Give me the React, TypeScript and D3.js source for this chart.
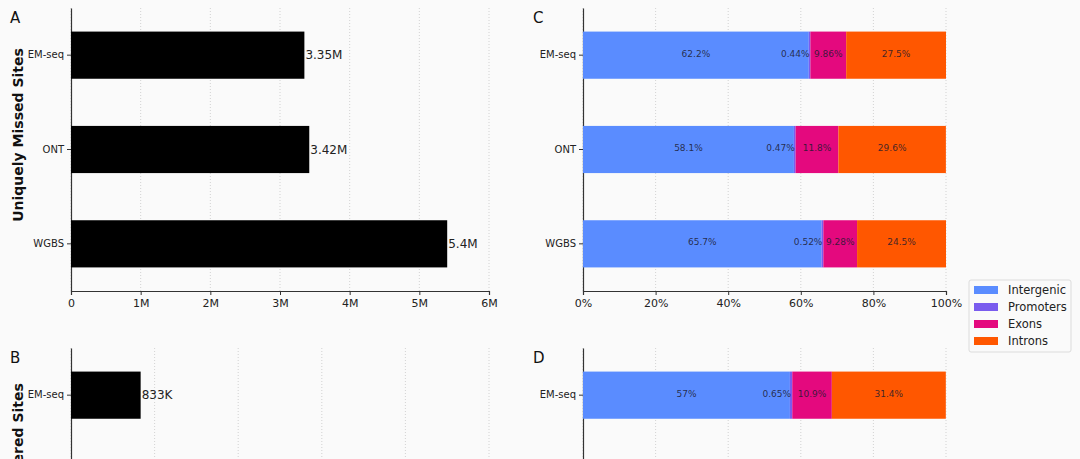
import React, { useEffect, useRef } from 'react';
import * as d3 from 'd3';

// sequencing platforms (top to bottom)
const platforms = ['EM-seq', 'ONT', 'WGBS'];

// panel A: uniquely missed sites
const missedCounts = [3350000, 3420000, 5400000];
const missedTicks = [0, 1e6, 2e6, 3e6, 4e6, 5e6, 6e6];

// panel B: only the first row is visible in the picture
const coveredPlatforms = ['EM-seq'];
const coveredCounts = [833000];
const coveredTicks = [0, 1e6, 2e6, 3e6, 4e6, 5e6];

// genomic feature shares (%)
const features = ['Intergenic', 'Promoters', 'Exons', 'Introns'];
const featureColors = ['#5A8CFF', '#7A5CEE', '#E4097E', '#FF5700'];
const missedIntergenic = [62.2, 58.1, 65.7];
const missedPromoters = [0.44, 0.47, 0.52];
const missedExons = [9.86, 11.8, 9.28];
const missedIntrons = [27.5, 29.6, 24.5];
const coveredIntergenic = [57];
const coveredPromoters = [0.65];
const coveredExons = [10.9];
const coveredIntrons = [31.4];
const percentTicks = [0, 20, 40, 60, 80, 100];

const FONT = '"DejaVu Sans", sans-serif';
const VIEW_H = 459;

export default function App() {
    const svgRef = useRef<SVGSVGElement>(null);

    useEffect(() => {
        document.body.style.margin = '0';
        if (!svgRef.current) return;
        const svg = d3.select(svgRef.current);
        svg.selectAll("*").remove();

        svg.append("rect")
            .attr("width", 1080)
            .attr("height", VIEW_H)
            .attr("fill", "#fafafa");

        const fmtCount = (v: number) => d3.format(".3~s")(v).replace("k", "K");
        const fmtTick = (v: number) => v === 0 ? "0" : d3.format("~s")(v);

        function frame(box: { left: number; right: number; top: number; bottom: number },
            x: d3.ScaleLinear<number, number>, ticks: number[], tickFmt: (v: number) => string,
            y: d3.ScaleBand<string>, cats: string[], label: string, labelX: number) {
            const g = svg.append("g");

            // dotted vertical grid
            g.selectAll("line.grid")
                .data(ticks)
                .join("line")
                .attr("class", "grid")
                .attr("x1", d => x(d)).attr("x2", d => x(d))
                .attr("y1", box.top).attr("y2", box.bottom)
                .attr("stroke", "#c8c8c8")
                .attr("stroke-width", 0.8)
                .attr("stroke-dasharray", "1,2");

            // bottom axis only when it falls inside the picture
            if (box.bottom < VIEW_H) {
                const xAxis = g.append("g")
                    .attr("transform", `translate(0,${box.bottom})`)
                    .call(d3.axisBottom(x).tickValues(ticks).tickFormat(d => tickFmt(+d)).tickSize(4).tickPadding(4));
                xAxis.select(".domain").attr("stroke", "#333").attr("stroke-width", 1.2);
                xAxis.selectAll(".tick line").attr("stroke", "#333");
                xAxis.selectAll("text")
                    .attr("fill", "#222")
                    .style("font-family", FONT)
                    .style("font-size", "11px");
            }

            const yAxis = g.append("g")
                .attr("transform", `translate(${box.left},0)`)
                .call(d3.axisLeft(y).tickValues(cats).tickSize(4).tickPadding(3).tickSizeOuter(0));
            yAxis.select(".domain").attr("stroke", "#333").attr("stroke-width", 1.2);
            yAxis.selectAll(".tick line").attr("stroke", "#333");
            yAxis.selectAll("text")
                .attr("fill", "#222")
                .style("font-family", FONT)
                .style("font-size", "10px");

            g.append("text")
                .attr("x", labelX)
                .attr("y", box.top + 15)
                .attr("font-family", FONT)
                .attr("font-size", 15)
                .attr("fill", "#111")
                .text(label);
            return g;
        }

        function countPanel(top: number, cats: string[], values: number[], ticks: number[],
            label: string, yTitle: string) {
            const box = { left: 71, right: 489, top, bottom: top + 283 };
            const x = d3.scaleLinear().domain([0, ticks[ticks.length - 1]]).range([box.left, box.right]);
            const y = d3.scaleBand<string>().domain(platforms).range([box.top, box.bottom])
                .paddingInner(0.5).paddingOuter(0.25);
            const g = frame(box, x, ticks, fmtTick, y, cats, label, 10);
            const rows = cats.map((c, i) => ({ c, v: values[i] }));

            g.selectAll("rect.bar")
                .data(rows)
                .join("rect")
                .attr("class", "bar")
                .attr("x", x(0))
                .attr("y", d => y(d.c)!)
                .attr("width", d => x(d.v) - x(0))
                .attr("height", y.bandwidth())
                .attr("fill", "#000");

            g.selectAll("text.val")
                .data(rows)
                .join("text")
                .attr("class", "val")
                .attr("x", d => x(d.v) + 1)
                .attr("y", d => y(d.c)! + y.bandwidth() / 2)
                .attr("dominant-baseline", "central")
                .attr("font-family", FONT)
                .attr("font-size", 12)
                .attr("fill", "#222")
                .text(d => fmtCount(d.v));

            // title sits a bit above the axis middle, as in the figure
            g.append("text")
                .attr("transform", `translate(18,${box.top + 127}) rotate(-90)`)
                .attr("text-anchor", "middle")
                .attr("dominant-baseline", "central")
                .attr("font-family", FONT)
                .attr("font-size", 14)
                .attr("font-weight", "bold")
                .attr("fill", "#111")
                .text(yTitle);
        }

        function sharePanel(top: number, cats: string[], series: number[][], label: string) {
            const box = { left: 583, right: 946, top, bottom: top + 283 };
            const x = d3.scaleLinear().domain([0, 100]).range([box.left, box.right]);
            const y = d3.scaleBand<string>().domain(platforms).range([box.top, box.bottom])
                .paddingInner(0.5).paddingOuter(0.25);
            const g = frame(box, x, percentTicks, v => `${v}%`, y, cats, label, 533);

            const table = cats.map((c, i) => {
                const row: Record<string, number | string> = { platform: c };
                features.forEach((f, k) => { row[f] = series[k][i]; });
                return row;
            });
            const stacked = d3.stack<Record<string, number | string>>()
                .keys(features)
                .value((d, key) => d[key] as number)(table);

            stacked.forEach((layer, k) => {
                const lg = g.append("g");
                lg.selectAll("rect")
                    .data(layer)
                    .join("rect")
                    .attr("x", d => x(d[0]))
                    .attr("y", d => y(d.data.platform as string)!)
                    .attr("width", d => x(d[1]) - x(d[0]))
                    .attr("height", y.bandwidth())
                    .attr("fill", featureColors[k]);
                lg.selectAll("text")
                    .data(layer)
                    .join("text")
                    .attr("x", d => x((d[0] + d[1]) / 2))
                    .attr("y", d => y(d.data.platform as string)! + y.bandwidth() / 2 - 1.5)
                    .attr("text-anchor", d => (d[1] - d[0]) < 2 ? "end" : "middle")
                    .attr("dominant-baseline", "central")
                    .attr("font-family", FONT)
                    .attr("font-size", 9)
                    .attr("fill", "#1a1a2e")
                    .attr("fill-opacity", 0.85)
                    .text(d => `${+(d.data[features[k]] as number)}%`);
            });
        }

        countPanel(8, platforms, missedCounts, missedTicks, "A", "Uniquely Missed Sites");
        countPanel(348, coveredPlatforms, coveredCounts, coveredTicks, "B", "Uniquely Covered Sites");
        sharePanel(8, platforms, [missedIntergenic, missedPromoters, missedExons, missedIntrons], "C");
        sharePanel(348, coveredPlatforms, [coveredIntergenic, coveredPromoters, coveredExons, coveredIntrons], "D");

        // legend
        const legend = svg.append("g").attr("transform", "translate(969,280)");
        legend.append("rect")
            .attr("width", 102)
            .attr("height", 72)
            .attr("rx", 2)
            .attr("fill", "#fafafa")
            .attr("stroke", "#dcdcdc");
        const items = legend.selectAll("g.item")
            .data(features)
            .join("g")
            .attr("class", "item")
            .attr("transform", (_, i) => `translate(5,${10 + i * 17})`);
        items.append("rect")
            .attr("y", -4)
            .attr("width", 24)
            .attr("height", 8)
            .attr("fill", (_, i) => featureColors[i]);
        items.append("text")
            .attr("x", 34)
            .attr("dominant-baseline", "central")
            .attr("font-family", FONT)
            .attr("font-size", 11.5)
            .attr("fill", "#222")
            .text(d => d);
    }, []);

    return (
        <div style={{ width: 1080, height: VIEW_H, overflow: 'hidden' }}>
            <svg ref={svgRef} width={1080} height={VIEW_H} />
        </div>
    );
}
